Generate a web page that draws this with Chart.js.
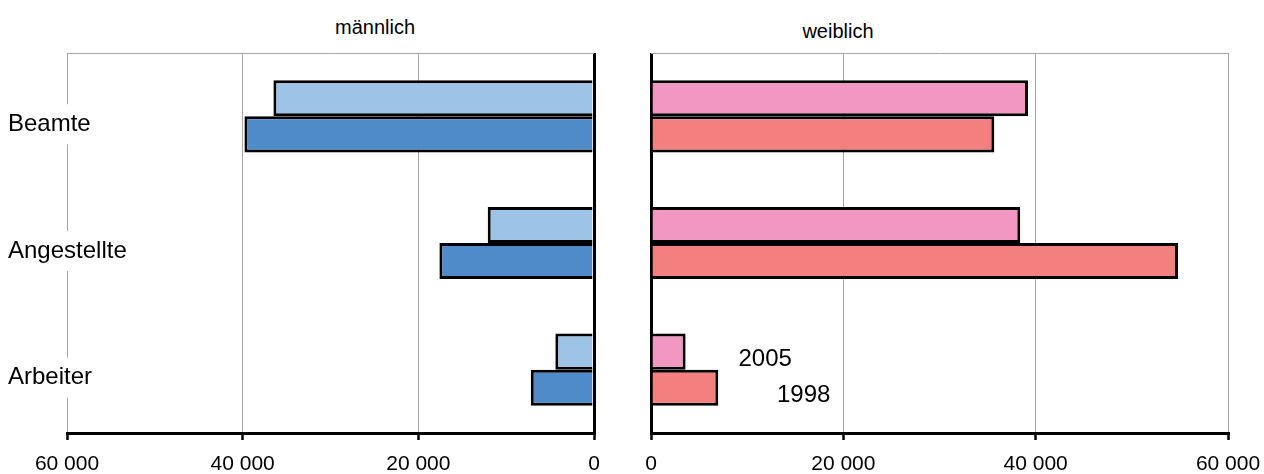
<!DOCTYPE html>
<html lang="de">
<head>
    <meta charset="UTF-8">
    <title>Beamte, Angestellte, Arbeiter</title>
    <script src="https://cdn.jsdelivr.net/npm/chart.js"></script>
    <style>
        body { margin: 0; background: #fff; width: 1264px; height: 474px; position: relative; overflow: hidden; font-family: "Liberation Sans", Arial, sans-serif; }
        canvas { position: absolute; top: 0; }
        #maleChart { left: 0; }
        #femaleChart { left: 620px; }
        .panel-title { position: absolute; font-size: 20px; line-height: 24px; color: #000; transform: translate(-50%, -50%); white-space: nowrap; }
    </style>
</head>
<body>
    <div class="panel-title" style="left: 375px; top: 27px;">männlich</div>
    <div class="panel-title" style="left: 838px; top: 31px;">weiblich</div>
    <canvas id="maleChart" width="620" height="474"></canvas>
    <canvas id="femaleChart" width="644" height="474"></canvas>

    <script>
        const categories = ['Beamte', 'Angestellte', 'Arbeiter'];
        const years = ['2005', '1998'];

        const male2005 = [36500, 12100, 4400];
        const male1998 = [39800, 17600, 7200];
        const female2005 = [39200, 38400, 3600];
        const female1998 = [35700, 54800, 7000];

        const tickValues = [0, 20000, 40000, 60000];

        Chart.defaults.font.family = '"Liberation Sans", Arial, sans-serif';
        Chart.defaults.color = '#000';

        function formatNumber(v) {
            return String(v).replace(/\B(?=(\d{3})+(?!\d))/g, ' ');
        }

        // x scale shared by both panels, only direction differs
        function xScale(reverse) {
            return {
                type: 'linear',
                reverse: reverse,
                min: 0,
                max: 60000,
                afterBuildTicks: scale => { scale.ticks = tickValues.map(v => ({ value: v })); },
                afterFit: scale => {
                    scale.height = 41;
                    // layout padding already leaves room for the edge labels
                    scale.paddingLeft = 0;
                    scale.paddingRight = 0;
                },
                ticks: {
                    padding: 12,
                    font: { size: 21 },
                    callback: v => formatNumber(v)
                },
                grid: {
                    color: ctx => ctx.tick && ctx.tick.value === 0 ? '#000' : '#a6a6a6',
                    lineWidth: ctx => ctx.tick && ctx.tick.value === 0 ? 3 : 1,
                    tickColor: '#000',
                    tickLength: 7,
                    tickWidth: 2.5
                },
                border: { display: true, color: '#000', width: 3 }
            };
        }

        // thin grey line on top of the plot area
        const topFrame = {
            id: 'topFrame',
            afterDraw(chart) {
                const a = chart.chartArea;
                const ctx = chart.ctx;
                ctx.save();
                ctx.strokeStyle = '#a6a6a6';
                ctx.lineWidth = 1;
                ctx.beginPath();
                ctx.moveTo(a.left, a.top + 0.5);
                ctx.lineTo(a.right, a.top + 0.5);
                ctx.stroke();
                ctx.restore();
            }
        };

        // category names sit over the left edge of the male panel
        const categoryLabels = {
            id: 'categoryLabels',
            afterDraw(chart) {
                const ctx = chart.ctx;
                const y = chart.scales.y;
                ctx.save();
                ctx.font = '24px "Liberation Sans", Arial, sans-serif';
                ctx.textBaseline = 'middle';
                categories.forEach((c, i) => {
                    const py = y.getPixelForValue(i) + 8;
                    const w = ctx.measureText(c).width;
                    ctx.fillStyle = '#fff';
                    ctx.fillRect(6, py - 20, w + 6, 40);
                    ctx.fillStyle = '#000';
                    ctx.fillText(c, 8, py);
                });
                ctx.restore();
            }
        };

        // year labels next to the Arbeiter bars of the female panel
        const yearLabels = {
            id: 'yearLabels',
            afterDraw(chart) {
                const ctx = chart.ctx;
                const x = chart.scales.x;
                const startValues = [9100, 13100];
                ctx.save();
                ctx.font = '24px "Liberation Sans", Arial, sans-serif';
                ctx.textBaseline = 'middle';
                years.forEach((yr, d) => {
                    const bar = chart.getDatasetMeta(d).data[2];
                    const px = x.getPixelForValue(startValues[d]);
                    const py = bar.y + 8;
                    const w = ctx.measureText(yr).width;
                    ctx.fillStyle = '#fff';
                    ctx.fillRect(px - 8, py - 19, w + 20, 38);
                    ctx.fillStyle = '#000';
                    ctx.fillText(yr, px, py);
                });
                ctx.restore();
            }
        };

        function makeChart(id, reverse, data2005, data1998, colors, padding, plugins) {
            return new Chart(document.getElementById(id), {
                type: 'bar',
                data: {
                    labels: categories,
                    datasets: [
                        { label: years[0], data: data2005, backgroundColor: colors[0] },
                        { label: years[1], data: data1998, backgroundColor: colors[1] }
                    ]
                },
                options: {
                    indexAxis: 'y',
                    responsive: false,
                    animation: false,
                    layout: { padding: padding },
                    datasets: {
                        bar: {
                            borderColor: '#000',
                            borderWidth: 3,
                            barPercentage: 1,
                            categoryPercentage: 0.57
                        }
                    },
                    scales: {
                        x: xScale(reverse),
                        y: { display: false }
                    },
                    plugins: {
                        legend: { display: false },
                        tooltip: { enabled: false }
                    }
                },
                plugins: plugins
            });
        }

        makeChart('maleChart', true, male2005, male1998, ['#9dc3e6', '#4f8ac9'],
            { left: 67, right: 26, top: 53, bottom: 0 }, [topFrame, categoryLabels]);
        makeChart('femaleChart', false, female2005, female1998, ['#f297c1', '#f37f7e'],
            { left: 31, right: 36, top: 53, bottom: 0 }, [topFrame, yearLabels]);
    </script>
</body>
</html>
